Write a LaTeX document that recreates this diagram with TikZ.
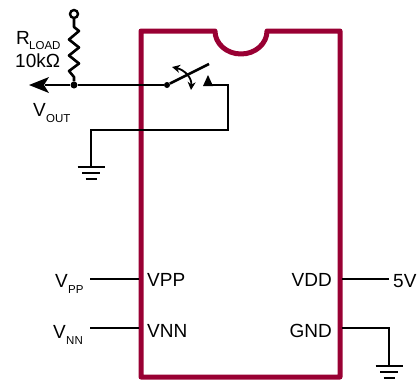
\documentclass[tikz,border=0pt]{standalone}
\usepackage{fontspec}
\setmainfont{Liberation Sans}
\usetikzlibrary{arrows.meta}
\definecolor{chipred}{HTML}{990033}
\tikzset{
  wire/.style={draw=black,line width=2.6pt},
  chip/.style={draw=chipred,line width=5pt,line join=round},
  big/.style={font=\fontsize{19}{19}\selectfont,inner sep=0pt,anchor=base west},
  small/.style={font=\fontsize{11.5}{11.5}\selectfont,inner sep=0pt,anchor=base west},
  dot/.style={circle,fill=black,inner sep=0pt,minimum size=7pt},
  ring/.style={circle,draw=black,line width=2.4pt,fill=white,inner sep=0pt,minimum size=8pt},
}
\newcommand{\gndsym}[2]{%
  \draw[line width=2.6pt] (#1-13.5,#2) -- (#1+13.5,#2);
  \draw[line width=2.6pt] (#1-9,#2+6) -- (#1+9,#2+6);
  \draw[line width=2.6pt] (#1-5.5,#2+12) -- (#1+5.5,#2+12);}
\begin{document}
\begin{tikzpicture}[x=1pt,y=-1pt]
\useasboundingbox (0,0) rectangle (418,380);
% chip
\draw[chip] (141,31) -- (215,31) arc[start angle=180,end angle=360,x radius=26,y radius=-23] -- (340,31) -- (340,377) -- (141,377) -- cycle;
% coordinates
\node[ring] (top) at (74,14) {};
\node[dot] (junc) at (74,85) {};
\node[dot,minimum size=6pt] (piv) at (167,85) {};
\coordinate (rtop) at (74,27);
\coordinate (rbot) at (74,77);
\coordinate (tip) at (29,85);
\coordinate (blade) at (209,64);
\coordinate (cont) at (212,85);
\coordinate (cr) at (228,85);
\coordinate (crb) at (228,130);
\coordinate (gl) at (91,130);
\coordinate (gt) at (91,167);
\coordinate (pa) at (90,279);
\coordinate (pb) at (139,279);
\coordinate (qa) at (90,328);
\coordinate (qb) at (139,328);
\coordinate (ra) at (342,279);
\coordinate (rb) at (389,279);
\coordinate (sa) at (342,328);
\coordinate (sb) at (389,328);
\coordinate (st) at (389,366);
% resistor
\draw[wire,line join=round] (top) -- (rtop) -- (79,31) -- (69,39.5) -- (79,47.5) -- (69,55.5) -- (79,63.5) -- (69,71) -- (rbot) -- (junc);
% output
\draw[wire] (piv) -- (junc) -- (45,85);
\draw[fill=black,draw=none] (tip) -- (49,77) -- (44,85) -- (49,93) -- cycle;
% switch
\draw[wire] (piv) -- (blade);
\draw[line width=1.8pt,{Stealth[length=8pt,width=8pt]}-{Stealth[length=8pt,width=8pt]}] (172,67) .. controls (185,70) and (192,78) .. (191,90);
\draw[fill=black,draw=none] (203,86) -- (208,75) -- (213,86) -- cycle;
\draw[wire,line join=miter] (cont) -- (cr) -- (crb) -- (gl) -- (gt);
\gndsym{91}{167}
% pins
\draw[wire] (pa) -- (pb);
\draw[wire] (qa) -- (qb);
\draw[wire] (ra) -- (rb);
\draw[wire,line join=miter] (sa) -- (sb) -- (st);
\gndsym{389}{366}
% labels
\node[big] (rl) at (16,44) {R};
\node[small] (rls) at (29,49) {LOAD};
\node[big] (kl) at (15,67) {10kΩ};
\node[big] (vo) at (33,116) {V};
\node[small] (vos) at (46,122.5) {OUT};
\node[big] (vp) at (55,287) {V};
\node[small] (vps) at (68,293) {PP};
\node[big] (vn) at (53,338) {V};
\node[small] (vns) at (66,344) {NN};
\node[big] (vpp) at (147,286) {VPP};
\node[big] (vnn) at (147,337) {VNN};
\node[big,anchor=base east] (vdd) at (332,286) {VDD};
\node[big,anchor=base east] (gnd) at (332,337) {GND};
\node[big] (fv) at (393,287) {5V};
\end{tikzpicture}
\end{document}
